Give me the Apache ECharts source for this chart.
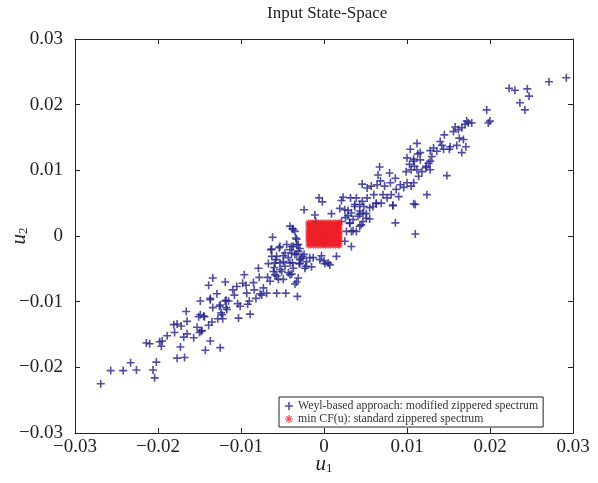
<!DOCTYPE html>
<html>
<head>
<meta charset="utf-8">
<script src="https://cdn.jsdelivr.net/npm/echarts@6/dist/echarts.min.js"></script>
<style>
  html, body { margin: 0; padding: 0; background: #fff; }
  #main { width: 598px; height: 483px; }
</style>
</head>
<body>
<div id="main"></div>
<script>
// axis range and ticks
const AxisMin = -0.03;
const AxisMax = 0.03;
const AxisStep = 0.01;
const SerifFont = '"Liberation Serif", "DejaVu Serif", serif';

const titleText = 'Input State-Space';
const weylName = 'Weyl-based approach: modified zippered spectrum';
const cfName = 'min CF(u): standard zippered spectrum';

// blue '+' points, [u1, u2]
const weylPoints = [
  [-0.0269,-0.0225],[-0.0257,-0.0205],[-0.0242,-0.0205],[-0.0233,-0.0193],[-0.0226,-0.0204],
  [-0.0206,-0.0204],[-0.0204,-0.0216],[-0.0202,-0.0192],[-0.0214,-0.0163],[-0.0210,-0.0164],
  [-0.0198,-0.0161],[-0.0196,-0.0168],[-0.0195,-0.0160],[-0.0189,-0.0152],[-0.0180,-0.0147],
  [-0.0181,-0.0135],[-0.0177,-0.0134],[-0.0173,-0.0169],[-0.0177,-0.0186],[-0.0168,-0.0185],
  [-0.0172,-0.0137],[-0.0169,-0.0154],[-0.0166,-0.0115],[-0.0165,-0.0130],[-0.0165,-0.0149],
  [-0.0157,-0.0155],[-0.0153,-0.0139],[-0.0151,-0.0123],[-0.0149,-0.0099],[-0.0150,-0.0147],
  [-0.0147,-0.0144],[-0.0144,-0.0123],[-0.0143,-0.0174],[-0.0139,-0.0136],[-0.0137,-0.0160],
  [-0.0135,-0.0131],[-0.0134,-0.0109],[-0.0128,-0.0126],[-0.0125,-0.0170],[-0.0124,-0.0117],
  [-0.0122,-0.0126],[-0.0118,-0.0109],[-0.0119,-0.0099],[-0.0137,-0.0097],[-0.0126,-0.0107],
  [-0.0149,-0.0120],[-0.0145,-0.0122],[-0.0148,-0.0145],[-0.0139,-0.0075],[-0.0134,-0.0064],
  [-0.0137,-0.0095],[-0.0129,-0.0088],[-0.0125,-0.0105],[-0.0123,-0.0120],[-0.0119,-0.0070],
  [-0.0118,-0.0098],[-0.0115,-0.0099],[-0.0117,-0.0112],[-0.0110,-0.0082],[-0.0108,-0.0090],
  [-0.0105,-0.0077],[-0.0104,-0.0103],[-0.0103,-0.0125],[-0.0101,-0.0107],[-0.0098,-0.0072],
  [-0.0096,-0.0059],[-0.0094,-0.0075],[-0.0093,-0.0087],[-0.0092,-0.0104],[-0.0089,-0.0119],
  [-0.0090,-0.0099],[-0.0085,-0.0071],[-0.0084,-0.0082],[-0.0082,-0.0095],[-0.0079,-0.0049],
  [-0.0078,-0.0063],[-0.0077,-0.0088],[-0.0075,-0.0090],[-0.0073,-0.0079],[-0.0069,-0.0087],
  [-0.0068,-0.0063],[-0.0067,-0.0042],[-0.0064,-0.0021],[-0.0063,-0.0031],[-0.0062,-0.0002],
  [-0.0060,-0.0048],[-0.0059,-0.0059],[-0.0058,-0.0036],[-0.0057,-0.0087],[-0.0055,-0.0066],
  [-0.0054,-0.0018],[-0.0053,-0.0041],[-0.0051,-0.0054],[-0.0049,-0.0030],[-0.0047,-0.0046],
  [-0.0046,-0.0087],[-0.0045,-0.0013],[-0.0043,-0.0033],[-0.0041,-0.0021],[-0.0039,-0.0058],
  [-0.0038,-0.0041],[-0.0037,-0.0016],[-0.0035,-0.0073],[-0.0034,-0.0003],[-0.0033,-0.0028],
  [-0.0032,-0.0092],[-0.0031,-0.0064],[-0.0030,-0.0042],[-0.0029,-0.0019],[-0.0027,-0.0034],
  [-0.0024,-0.0028],[-0.0022,-0.0046],[-0.0038,0.0011],[-0.0035,0.0007],[-0.0033,-0.0005],
  [-0.0041,0.0015],[-0.0037,0.0010],[-0.0033,-0.0013],[-0.0039,-0.0026],[-0.0031,-0.0023],
  [-0.0024,0.0040],[-0.0011,0.0032],[-0.0010,0.0022],[-0.0006,0.0058],[-0.0002,0.0052],
  [0.0000,0.0005],[0.0000,-0.0011],[0.0009,0.0034],[0.0019,0.0042],[0.0021,0.0054],
  [0.0023,0.0059],[0.0026,0.0028],[0.0025,-0.0008],[0.0029,0.0039],[0.0031,0.0020],
  [0.0033,-0.0016],[0.0035,0.0008],[0.0032,0.0058],[0.0037,0.0048],[0.0039,0.0058],
  [0.0041,0.0030],[0.0043,0.0038],[0.0045,0.0017],[0.0046,0.0053],[0.0048,0.0045],
  [0.0051,0.0034],[0.0052,0.0058],[0.0055,0.0043],[0.0046,0.0079],[0.0052,0.0073],
  [0.0057,0.0076],[0.0060,0.0063],[0.0063,0.0049],[0.0064,0.0078],[0.0065,0.0093],
  [0.0067,0.0105],[0.0068,0.0084],[0.0071,0.0063],[0.0073,0.0076],[0.0076,0.0058],
  [0.0079,0.0096],[0.0080,0.0081],[0.0081,0.0063],[0.0083,0.0047],[0.0086,0.0088],
  [0.0087,0.0071],[0.0086,0.0020],[0.0090,0.0060],[0.0092,0.0078],[0.0096,0.0074],
  [0.0099,0.0098],[0.0100,0.0081],[0.0100,0.0119],[0.0103,0.0109],[0.0104,0.0132],
  [0.0105,0.0101],[0.0108,0.0114],[0.0108,0.0049],[0.0109,0.0106],[0.0110,0.0003],
  [0.0113,0.0125],[0.0116,0.0116],[0.0118,0.0098],[0.0124,0.0063],[0.0123,0.0106],
  [0.0126,0.0111],[0.0015,-0.0031],[0.0000,-0.0038],[-0.0017,-0.0033],[-0.0029,-0.0036],
  [-0.0005,-0.0036],[0.0005,-0.0041],[0.0021,0.0022],
  [0.0292,0.0241],[0.0271,0.0235],[0.0223,0.0225],[0.0230,0.0222],[0.0245,0.0224],
  [0.0247,0.0213],[0.0236,0.0203],[0.0242,0.0192],[0.0196,0.0192],[0.0198,0.0172],
  [0.0200,0.0175],[0.0172,0.0175],[0.0174,0.0172],[0.0178,0.0172],[0.0170,0.0170],
  [0.0158,0.0166],[0.0156,0.0159],[0.0162,0.0162],[0.0166,0.0165],[0.0145,0.0154],
  [0.0163,0.0149],[0.0168,0.0147],[0.0140,0.0144],[0.0142,0.0138],[0.0144,0.0132],
  [0.0152,0.0136],[0.0151,0.0132],[0.0160,0.0138],[0.0171,0.0136],[0.0166,0.0127],
  [0.0132,0.0134],[0.0128,0.0130],[0.0136,0.0129],[0.0130,0.0121],[0.0112,0.0141],
  [0.0116,0.0127],[0.0128,0.0114],[0.0108,0.0117],[0.0112,0.0101],[0.0123,0.0104],
  [0.0128,0.0101],[0.0114,0.0091],[0.0108,0.0081],[0.0105,0.0076],[0.0148,0.0092],
  [-0.0063,-0.0020],[-0.0053,-0.0016],[-0.0039,-0.0016],[-0.0031,-0.0013],[-0.0047,-0.0026],
  [-0.0057,-0.0031],[-0.0035,-0.0028],[-0.0026,-0.0031],[-0.0059,-0.0041],[-0.0049,-0.0039],
  [-0.0041,-0.0041],[-0.0029,-0.0042],[-0.0021,-0.0039],[-0.0013,-0.0033],[0.0001,-0.0042],
  [0.0007,-0.0044],[-0.0003,-0.0030],[-0.0061,-0.0054],[-0.0053,-0.0051],[-0.0043,-0.0056],
  [-0.0037,-0.0049],[-0.0023,-0.0049],[-0.0015,-0.0047],[-0.0041,-0.0059],[-0.0057,-0.0061],
  [-0.0049,-0.0066],[-0.0033,-0.0070],[-0.0065,-0.0069],
  [0.0110,0.0048],[0.0027,0.0007],[0.0033,0.0007],[0.0039,0.0007],
  [0.0043,0.0015],[0.0031,0.0019],[0.0035,0.0025],[0.0047,0.0022],[0.0051,0.0027],
  [0.0055,0.0026],[0.0029,0.0031],[0.0033,0.0035],[0.0043,0.0033],[0.0047,0.0035],
  [0.0025,0.0040],[0.0037,0.0045],[0.0043,0.0048],[0.0059,0.0045],[0.0063,0.0050],
  [0.0069,0.0050],[0.0083,0.0046]
];

// red '*' points: the search grid of min CF(u)
const cfGridU1 = [-0.0019,-0.0016,-0.0013,-0.0010,-0.0007,-0.0004,-0.0001,0.0002,0.0005,0.0008,0.0011,0.0014,0.0017,0.0019];
const cfGridU2 = [-0.0015,-0.0012,-0.0009,-0.0006,-0.0003,0.0000,0.0003,0.0006,0.0009,0.0012,0.0015,0.0018,0.0021];

const cfPoints = [];
for (var i = 0; i < cfGridU1.length; i++) {
  for (var j = 0; j < cfGridU2.length; j++) {
    cfPoints.push([cfGridU1[i], cfGridU2[j]]);
  }
}

const plusPath = 'path://M3.2,0H4.8V8H3.2ZM0,3.2H8V4.8H0Z';
const starPath = 'path://M3.4,0H4.6V8H3.4ZM0,3.4H8V4.6H0ZM0.8,1.6L1.6,0.8L7.2,6.4L6.4,7.2ZM0.8,6.4L6.4,0.8L7.2,1.6L1.6,7.2Z';

function tickLabel(v) {
  if (Math.abs(v) < 1e-9) return '0';
  return v.toFixed(2).replace('-', '\u2212');
}

function mainAxis(pos, nameText) {
  return {
    type: 'value',
    position: pos,
    min: AxisMin,
    max: AxisMax,
    interval: AxisStep,
    axisLine: { show: true, onZero: false, lineStyle: { color: '#222', width: 1 } },
    axisTick: { show: true, inside: true, length: 5, lineStyle: { color: '#222' } },
    splitLine: { show: false },
    axisLabel: {
      formatter: tickLabel,
      fontFamily: SerifFont,
      fontSize: 19,
      color: '#222',
      margin: pos === 'bottom' ? 5 : 12
    },
    name: nameText,
    nameLocation: 'middle',
    nameMoveOverlap: false,
    nameGap: pos === 'bottom' ? 20 : 45,
    nameRotate: pos === 'bottom' ? 0 : 90,
    nameTextStyle: {
      rich: {
        u: { fontFamily: SerifFont, fontStyle: 'italic', fontSize: 21, color: '#222' },
        s: { fontFamily: SerifFont, fontSize: 13, color: '#222', padding: [9, 0, 0, 0] }
      }
    }
  };
}

function mirrorAxis(pos) {
  return {
    type: 'value',
    position: pos,
    min: AxisMin,
    max: AxisMax,
    interval: AxisStep,
    axisLine: { show: true, onZero: false, lineStyle: { color: '#222', width: 1 } },
    axisTick: { show: true, inside: true, length: 5, lineStyle: { color: '#222' } },
    splitLine: { show: false },
    axisLabel: { show: false }
  };
}

const chart = echarts.init(document.getElementById('main'));
chart.setOption({
  backgroundColor: '#fff',
  animation: false,
  title: {
    text: titleText,
    left: 262,
    top: 0,
    textStyle: { fontFamily: SerifFont, fontSize: 17, fontWeight: 'normal', color: '#222' }
  },
  grid: { left: 75, right: 25, top: 39, bottom: 50, outerBoundsMode: 'none', containLabel: false },
  xAxis: [mainAxis('bottom', '{u|u}{s|1}'), mirrorAxis('top')],
  yAxis: [mainAxis('left', '{u|u}{s|2}'), mirrorAxis('right')],
  legend: {
    orient: 'vertical',
    left: 279,
    top: 397,
    backgroundColor: '#fff',
    borderColor: '#222',
    borderWidth: 1,
    borderRadius: 0,
    padding: [3, 5, 2, 6],
    itemGap: 1,
    itemWidth: 8,
    itemHeight: 8,
    textStyle: { fontFamily: SerifFont, fontSize: 11.8, color: '#333' },
    data: [weylName, cfName]
  },
  series: [
    {
      name: weylName,
      type: 'scatter',
      data: weylPoints,
      symbol: plusPath,
      symbolSize: 8,
      itemStyle: { color: '#23238a' },
      z: 2
    },
    {
      name: cfName,
      type: 'scatter',
      data: cfPoints,
      symbol: starPath,
      symbolSize: 6,
      itemStyle: { color: '#ee1f26' },
      z: 3
    }
  ]
});
</script>
</body>
</html>
